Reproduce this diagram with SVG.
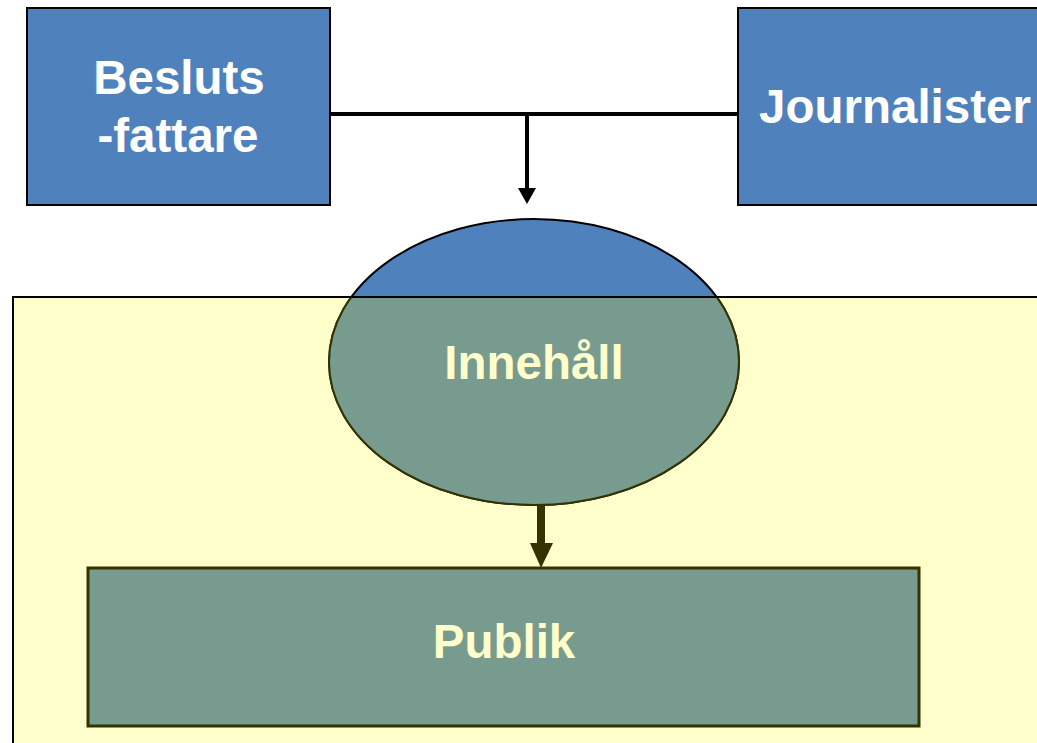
<svg xmlns="http://www.w3.org/2000/svg" width="1037" height="743" viewBox="0 0 1037 743">
<style>
.box{fill:#4F81BD;stroke:#000;stroke-width:2}
.wt{font-family:"Liberation Sans",Arial,sans-serif;font-weight:bold;font-size:47.5px;fill:#FFFFFF;text-anchor:middle}
.yt{font-family:"Liberation Sans",Arial,sans-serif;font-weight:bold;font-size:47.5px;fill:#FFFFCC;text-anchor:middle}
.conn{stroke:#000;stroke-width:4;fill:none}
</style>
<defs>
<clipPath id="inRect"><rect x="13" y="297" width="1030" height="450"/></clipPath>
</defs>
<g id="bg">
<rect x="13" y="297" width="1030" height="450" fill="#FFFFCC" stroke="#000" stroke-width="2"/>
</g>
<g id="besluts">
<rect class="box" x="27" y="8" width="303" height="197"/>
<text class="wt" x="179" y="94">Besluts</text>
<text class="wt" x="178" y="152">-fattare</text>
</g>
<g id="journalister">
<rect class="box" x="738" y="8" width="310" height="197"/>
<text class="wt" x="895" y="123">Journalister</text>
</g>
<g id="innehall">
<ellipse cx="534" cy="362" rx="205" ry="143" fill="#4F81BD" stroke="#000" stroke-width="2"/>
<ellipse cx="534" cy="362" rx="205" ry="143" fill="#779C8F" stroke="#333300" stroke-width="2" clip-path="url(#inRect)"/>
<line x1="330" y1="297" x2="738" y2="297" stroke="#000" stroke-width="2"/>
<text class="yt" x="534" y="379">Innehåll</text>
</g>
<g id="publik">
<rect x="88" y="568" width="831" height="158" fill="#779C8F" stroke="#333300" stroke-width="3"/>
<text class="yt" x="504" y="658">Publik</text>
</g>
<g id="connectors">
<line class="conn" x1="330" y1="114" x2="738" y2="114"/>
<line class="conn" x1="527" y1="114" x2="527" y2="190"/>
<polygon points="518,188 536,188 527,204" fill="#000"/>
<rect x="537" y="505" width="8" height="40" fill="#333300"/>
<polygon points="530,543 553,543 541,568" fill="#333300"/>
</g>
</svg>
